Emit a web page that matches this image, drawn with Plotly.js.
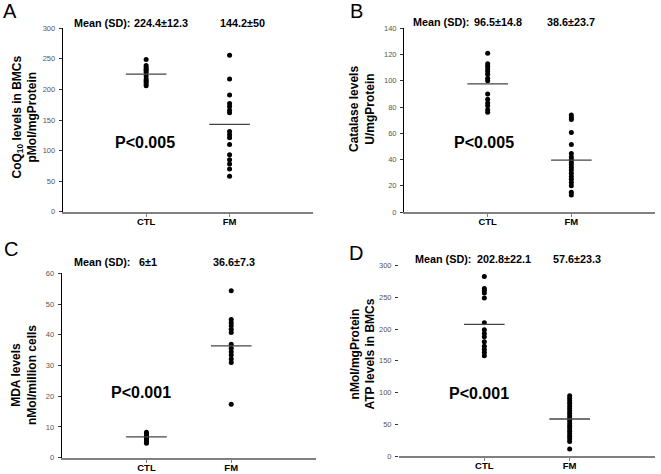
<!DOCTYPE html>
<html>
<head>
<meta charset="utf-8">
<script src="https://cdn.plot.ly/plotly-3.0.1.min.js"></script>
<style>html,body{margin:0;padding:0;background:#fff}#chart{width:661px;height:474px}</style>
</head>
<body>
<div id="chart"></div>
<script>
// ---- data ----
const categories = ['CTL', 'FM'];

const coqCTL = [249, 239, 236, 233, 231, 228, 222, 217, 214, 212, 209, 206];
const coqFM  = [256, 217, 191, 177, 172, 166, 162, 131, 126, 121, 110, 93, 85, 78, 70, 58];
const coqMeanLine = [225, 143];
const coqMeanText = ['224.4±12.3', '144.2±50'];

const catCTL = [121, 113, 111, 109, 107, 105, 102, 100, 90, 86, 83, 81, 78, 76];
const catFM  = [74, 72, 70.5, 60.5, 51.5, 44.5, 42, 40, 38, 36, 34, 32, 29.5, 27, 25, 22.5, 20, 15, 13];
const catMeanLine = [97.6, 39.6];
const catMeanText = ['96.5±14.8', '38.6±23.7'];

const mdaCTL = [8.3, 7.8, 7.4, 7.0, 6.6, 6.2, 5.8, 5.4, 5.0, 4.7];
const mdaFM  = [54.3, 45, 43.9, 42.9, 41.8, 40.7, 36.9, 35.6, 34.5, 33.4, 32.1, 31, 17.4];
const mdaMeanLine = [6.8, 36.4];
const mdaMeanText = ['6±1', '36.6±7.3'];

const atpCTL = [283, 264, 261, 257, 249, 210, 199, 193, 188, 180, 173, 168, 163, 158];
const atpFM  = [95, 91, 87, 83, 79, 75, 71, 67, 63, 59, 55, 51, 47, 43, 39, 35, 31, 27, 23, 11];
const atpMeanLine = [207.5, 58.3];
const atpMeanText = ['202.8±22.1', '57.6±23.3'];

const panelLetters = ['A', 'B', 'C', 'D'];
const pValues = ['P<0.005', 'P<0.005', 'P<0.001', 'P<0.001'];
const yTitles = [
  'CoQ<sub>10</sub> levels in BMCs<br>pMol/mgProtein',
  'Catalase levels<br>U/mgProtein',
  'MDA levels<br>nMol/million cells',
  'nMol/mgProtein<br>ATP levels in BMCs'
];
const yMax = [300, 140, 60, 300];
const yStep = [50, 20, 10, 50];

// ---- layout geometry (pixels) ----
const W = 661, H = 474;
const px = v => v / W;
const py = v => 1 - v / H;
const geo = [
  {x0: 62.7, x1: 313, yTop: 28.3, yBot: 211.7, letter: [10, 11.5], title: [24.5, 117], p: [145, 142.7], meanY: 22.7, mean: [74, 134, 220], yline: true},
  {x0: 404, x1: 655, yTop: 28.3, yBot: 212, letter: [357, 11.5], title: [362, 109], p: [483.5, 142.7], meanY: 21.7, mean: [413, 474, 547], yline: true},
  {x0: 61.7, x1: 316, yTop: 273.3, yBot: 457.7, letter: [10.5, 248.5], title: [24, 375], p: [141, 392.3], meanY: 261.7, mean: [74, 139, 213], yline: true},
  {x0: 399, x1: 655, yTop: 265.7, yBot: 456, letter: [355.5, 253.5], title: [362.5, 354], p: [478.5, 393.3], meanY: 259.3, mean: [415, 477, 553], yline: false}
];

const panels = [
  {ctl: coqCTL, fm: coqFM, meanLine: coqMeanLine, meanText: coqMeanText},
  {ctl: catCTL, fm: catFM, meanLine: catMeanLine, meanText: catMeanText},
  {ctl: mdaCTL, fm: mdaFM, meanLine: mdaMeanLine, meanText: mdaMeanText},
  {ctl: atpCTL, fm: atpFM, meanLine: atpMeanLine, meanText: atpMeanText}
];

const FONT = 'Liberation Sans, Arial, sans-serif';
const traces = [];
const layout = {
  width: W, height: H,
  margin: {l: 0, r: 0, t: 0, b: 0},
  paper_bgcolor: '#fff', plot_bgcolor: '#fff',
  showlegend: false,
  font: {family: FONT, color: '#000'},
  annotations: []
};

panels.forEach((p, i) => {
  const g = geo[i];
  const s = i === 0 ? '' : String(i + 1);
  const xa = 'x' + s, ya = 'y' + s;

  traces.push({
    type: 'scatter', mode: 'markers', xaxis: xa, yaxis: ya,
    x: p.ctl.map(() => categories[0]).concat(p.fm.map(() => categories[1])),
    y: p.ctl.concat(p.fm),
    marker: {color: '#000', size: 5},
    hoverinfo: 'y'
  });
  traces.push({
    type: 'scatter', mode: 'markers', xaxis: xa, yaxis: ya,
    x: categories, y: p.meanLine,
    marker: {symbol: 'line-ew', size: 29, color: '#444', line: {color: '#444', width: 1.3}},
    hoverinfo: 'y'
  });

  layout['xaxis' + s] = {
    domain: [px(g.x0), px(g.x1)], anchor: ya,
    type: 'category', categoryarray: categories, range: [-1, 2],
    showline: true, linecolor: '#808080', linewidth: 2,
    ticks: 'outside', ticklen: 3, tickcolor: '#808080', tickwidth: 1,
    ticklabelstandoff: -3,
    tickfont: {family: FONT, size: 9.5, weight: 'bold', color: '#000'},
    showgrid: false, zeroline: false, fixedrange: true
  };
  layout['yaxis' + s] = {
    domain: [py(g.yBot), py(g.yTop)], anchor: xa,
    range: [0, yMax[i]], dtick: yStep[i], tick0: 0,
    showline: g.yline, linecolor: '#000', linewidth: 1,
    ticks: 'outside', ticklen: 3, tickcolor: '#333', tickwidth: 1,
    ticklabelstandoff: 2,
    tickfont: {family: FONT, size: 7.5, color: '#555'},
    showgrid: false, zeroline: false, fixedrange: true
  };

  const ann = layout.annotations;
  ann.push({xref: 'paper', yref: 'paper', x: px(g.letter[0]), y: py(g.letter[1]),
    xanchor: 'center', yanchor: 'middle', text: panelLetters[i], showarrow: false,
    font: {family: FONT, size: 20, color: '#000'}});
  ann.push({xref: 'paper', yref: 'paper', x: px(g.title[0]), y: py(g.title[1]),
    xanchor: 'center', yanchor: 'middle', textangle: -90, text: yTitles[i], showarrow: false,
    font: {family: FONT, size: 12, weight: 'bold', color: '#000'}});
  ann.push({xref: 'paper', yref: 'paper', x: px(g.p[0]), y: py(g.p[1]),
    xanchor: 'center', yanchor: 'middle', text: pValues[i], showarrow: false,
    font: {family: FONT, size: 16, weight: 'bold', color: '#000'}});
  const mtexts = ['Mean (SD):', p.meanText[0], p.meanText[1]];
  mtexts.forEach((t, k) => {
    ann.push({xref: 'paper', yref: 'paper', x: px(g.mean[k] - 2), y: py(g.meanY),
      xanchor: 'left', yanchor: 'middle', text: t, showarrow: false,
      font: {family: FONT, size: 10.8, weight: 'bold', color: '#000'}});
  });
});

Plotly.newPlot('chart', traces, layout, {staticPlot: true, displayModeBar: false});
</script>
</body>
</html>
